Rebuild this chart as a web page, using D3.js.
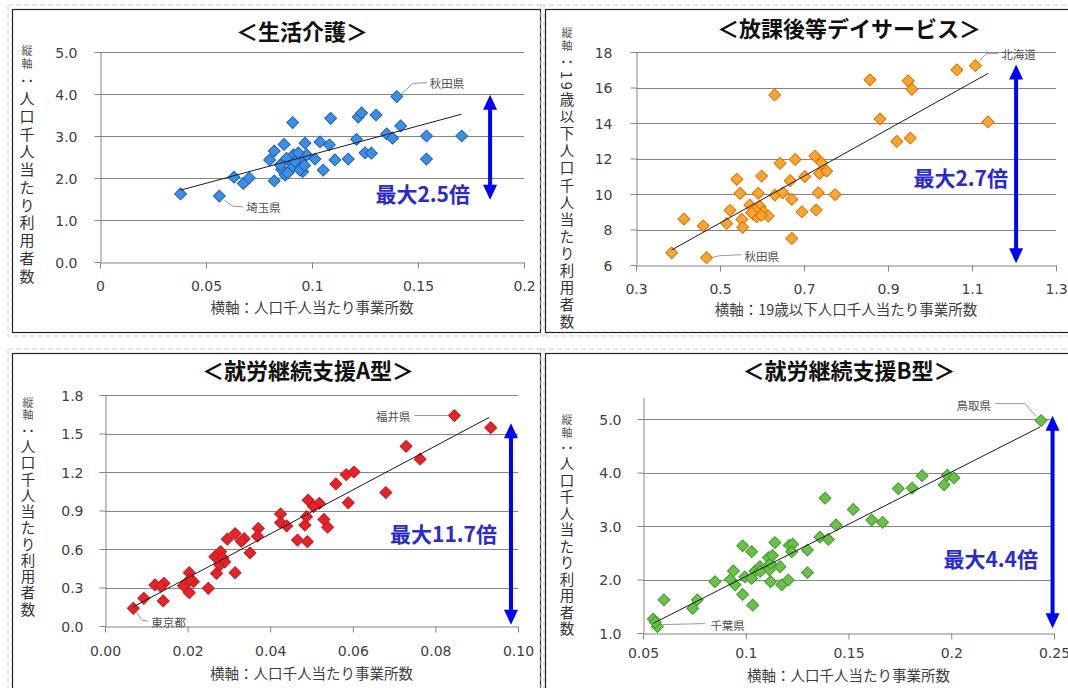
<!DOCTYPE html>
<html>
<head>
<meta charset="utf-8">
<script src="https://cdn.jsdelivr.net/npm/d3@7"></script>
<style>
  body { margin: 0; background: #fff; }
  svg { display: block; }
</style>
</head>
<body>
<svg width="1068" height="688"></svg>
<script>
// ---- data ----

// 生活介護: [事業所数 per 1000, 利用者数 per 1000]
const seikatsuPoints = [
  [0.038, 1.62], [0.0563, 1.57], [0.0632, 2.02], [0.0676, 1.87], [0.0704, 2.0],
  [0.0822, 1.93], [0.080, 2.43], [0.0822, 2.64], [0.0868, 2.8], [0.0909, 3.32],
  [0.0857, 2.2], [0.0873, 2.07], [0.0896, 2.39], [0.0912, 2.55], [0.0927, 2.27],
  [0.0951, 2.36], [0.0967, 2.83], [0.0975, 2.55], [0.0956, 2.15], [0.1014, 2.45],
  [0.1038, 2.86], [0.1053, 2.19], [0.1082, 2.79], [0.1088, 3.42], [0.1108, 2.43],
  [0.1171, 2.45], [0.121, 2.92], [0.1218, 3.45], [0.1234, 3.55], [0.125, 2.6],
  [0.128, 2.59], [0.1302, 3.5], [0.1352, 3.05], [0.138, 2.95], [0.14, 3.94],
  [0.1418, 3.24], [0.154, 3.0], [0.154, 2.45], [0.1706, 3.0], [0.085, 2.31],
  [0.0904, 2.23], [0.0943, 2.19], [0.088, 2.47], [0.092, 2.39], [0.0935, 2.6],
  [0.0885, 2.12], [0.0965, 2.3]
];
const seikatsuTrend = [[0.038, 1.71], [0.1706, 3.52]];
const seikatsuLabels = [["秋田県", 0.14, 3.94], ["埼玉県", 0.0563, 1.57]];
const seikatsuXTicks = [0, 0.05, 0.1, 0.15, 0.2];
const seikatsuYTicks = [0, 1, 2, 3, 4, 5];
const seikatsuRange = { text: "最大2.5倍", x: 0.184, from: 1.48, to: 3.98 };

// 放課後等デイサービス
const houkagoPoints = [
  [0.385, 6.69], [0.468, 6.41], [0.414, 8.59], [0.46, 8.21], [0.516, 8.34],
  [0.524, 9.08], [0.54, 10.83], [0.548, 10.04], [0.552, 8.57], [0.554, 8.12],
  [0.571, 9.38], [0.579, 8.87], [0.587, 8.72], [0.591, 10.04], [0.595, 9.3],
  [0.599, 11.01], [0.603, 9.0], [0.615, 8.76], [0.631, 9.94], [0.643, 11.73],
  [0.65, 10.07], [0.667, 10.75], [0.671, 9.7], [0.671, 7.5], [0.679, 11.95],
  [0.695, 9.0], [0.702, 10.98], [0.729, 9.1], [0.726, 12.14], [0.734, 10.07],
  [0.737, 11.15], [0.742, 11.75], [0.754, 11.29], [0.774, 9.97], [0.583, 9.1],
  [0.598, 8.8], [0.6302, 15.58], [0.857, 16.43], [0.881, 14.23], [0.921, 12.96],
  [0.948, 16.38], [0.957, 15.9], [0.953, 13.15], [1.064, 16.99], [1.108, 17.23],
  [1.138, 14.06], [0.575, 8.95]
];
const houkagoTrend = [[0.385, 6.85], [1.138, 16.79]];
const houkagoLabels = [["北海道", 1.108, 17.23], ["秋田県", 0.468, 6.41]];
const houkagoXTicks = [0.3, 0.5, 0.7, 0.9, 1.1, 1.3];
const houkagoYTicks = [6, 8, 10, 12, 14, 16, 18];
const houkagoRange = { text: "最大2.7倍", x: 1.205, from: 6.1, to: 17.3 };

// 就労継続支援A型
const typeAPoints = [
  [0.00686, 0.138], [0.0094, 0.216], [0.0121, 0.32], [0.0143, 0.333], [0.0141, 0.195],
  [0.019, 0.314], [0.0204, 0.415], [0.0204, 0.26], [0.0214, 0.345], [0.025, 0.294],
  [0.027, 0.41], [0.0266, 0.54], [0.028, 0.58], [0.0278, 0.475], [0.029, 0.5],
  [0.0296, 0.676], [0.0315, 0.415], [0.0315, 0.72], [0.0337, 0.68], [0.0351, 0.57],
  [0.0371, 0.76], [0.0369, 0.70], [0.0425, 0.873], [0.0425, 0.805], [0.0466, 0.67],
  [0.049, 0.657], [0.0484, 0.787], [0.0488, 0.852], [0.0492, 0.98], [0.0519, 0.956],
  [0.053, 0.83], [0.0539, 0.77], [0.0589, 0.96], [0.0559, 1.107], [0.0584, 1.18],
  [0.0603, 1.2], [0.068, 1.04], [0.0729, 1.40], [0.0763, 1.30], [0.0846, 1.64],
  [0.0934, 1.545], [0.0505, 0.93], [0.0285, 0.53], [0.0205, 0.36], [0.0135, 0.31],
  [0.0330, 0.66], [0.0440, 0.78]
];
const typeATrend = [[0.00686, 0.15], [0.093, 1.625]];
const typeALabels = [["福井県", 0.0846, 1.64], ["東京都", 0.00686, 0.138]];
const typeAXTicks = [0, 0.02, 0.04, 0.06, 0.08, 0.1];
const typeAYTicks = [0, 0.3, 0.6, 0.9, 1.2, 1.5, 1.8];
const typeARange = { text: "最大11.7倍", x: 0.0983, from: 0.01, to: 1.58 };

// 就労継続支援B型
const typeBPoints = [
  [0.055, 1.26], [0.057, 1.12], [0.0602, 1.62], [0.0742, 1.46], [0.0764, 1.62],
  [0.085, 1.96], [0.094, 2.16], [0.0948, 1.90], [0.0985, 1.72], [0.0985, 2.63],
  [0.0996, 2.05], [0.1029, 2.52], [0.1034, 1.52], [0.1045, 2.16], [0.1029, 2.02],
  [0.1069, 2.24], [0.111, 2.41], [0.1115, 2.18], [0.1121, 1.96], [0.1142, 2.69],
  [0.112, 2.3], [0.1167, 2.24], [0.1175, 1.90], [0.1207, 1.99], [0.1212, 2.64],
  [0.1228, 2.66], [0.1224, 2.52], [0.13, 2.55], [0.13, 2.13], [0.1361, 2.79],
  [0.1402, 2.75], [0.1386, 3.52], [0.1439, 3.02], [0.1523, 3.31], [0.1613, 3.11],
  [0.1666, 3.07], [0.1742, 3.70], [0.181, 3.71], [0.1858, 3.94], [0.1965, 3.77],
  [0.1981, 3.95], [0.2013, 3.9], [0.2437, 4.97], [0.056, 1.2], [0.107, 2.15],
  [0.113, 2.45], [0.0925, 2.0]
];
const typeBTrend = [[0.055, 1.18], [0.2432, 4.85]];
const typeBLabels = [["鳥取県", 0.2437, 4.97], ["千葉県", 0.057, 1.12]];
const typeBXTicks = [0.05, 0.1, 0.15, 0.2, 0.25];
const typeBYTicks = [1, 2, 3, 4, 5];
const typeBRange = { text: "最大4.4倍", x: 0.2493, from: 1.09, to: 5.06 };

const titles = ["＜生活介護＞", "＜放課後等デイサービス＞", "＜就労継続支援A型＞", "＜就労継続支援B型＞"];
const yTitles = ["縦軸：人口千人当たり利用者数", "縦軸：19歳以下人口千人当たり利用者数",
                 "縦軸：人口千人当たり利用者数", "縦軸：人口千人当たり利用者数"];
const xTitles = ["横軸：人口千人当たり事業所数", "横軸：19歳以下人口千人当たり事業所数",
                 "横軸：人口千人当たり事業所数", "横軸：人口千人当たり事業所数"];

// ---- drawing ----
const JP = "'Noto Sans CJK JP', 'Noto Sans', sans-serif";
const NUM = "'DejaVu Sans', Verdana, sans-serif";
const svg = d3.select("svg");

const panels = [
  { points: seikatsuPoints, trend: seikatsuTrend, labels: seikatsuLabels, range: seikatsuRange,
    xTicks: seikatsuXTicks, yTicks: seikatsuYTicks, title: titles[0], yTitle: yTitles[0], xTitle: xTitles[0],
    xDomain: [0, 0.2], yDomain: [0, 5], xRange: [100, 524], yRange: [262, 52],
    xFmt: d3.format(""), yFmt: d3.format(".1f"),
    box: [12, 9, 540, 332], titleX: 302, titleY: 30, yTitleX: 27, yTitleSpan: [45, 283], yTitleSize: 15,
    yLabelRight: 77, xLabelDy: 23, xTitleY: 306,
    fill: "#3d8fe6", stroke: "#1d5fb8",
    callouts: [ { leader: [[4, -2], [16, -13], [30, -14]], dx: 33, dy: -14, anchor: "start" },
                { leader: [[5, 4], [13, 10], [24, 11]], dx: 27, dy: 11, anchor: "start" } ],
    textRight: 470, textY: 193 },
  { points: houkagoPoints, trend: houkagoTrend, labels: houkagoLabels, range: houkagoRange,
    xTicks: houkagoXTicks, yTicks: houkagoYTicks, title: titles[1], yTitle: yTitles[1], xTitle: xTitles[1],
    xDomain: [0.3, 1.3], yDomain: [6, 18], xRange: [636, 1056], yRange: [265, 52],
    xFmt: d3.format(".1f"), yFmt: d3.format("d"),
    box: [545, 9, 1072, 332], titleX: 849, titleY: 27, yTitleX: 567, yTitleSpan: [27, 325], yTitleSize: 14.5,
    yLabelRight: 612, xLabelDy: 23, xTitleY: 308,
    fill: "#f9a632", stroke: "#dc6f00",
    callouts: [ { leader: [[4, -5], [11, -12], [23, -12]], dx: 26, dy: -12, anchor: "start" },
                { leader: [[5, 0], [13, -2], [35, -3]], dx: 38, dy: -2, anchor: "start" } ],
    textRight: 1008, textY: 177 },
  { points: typeAPoints, trend: typeATrend, labels: typeALabels, range: typeARange,
    xTicks: typeAXTicks, yTicks: typeAYTicks, title: titles[2], yTitle: yTitles[2], xTitle: xTitles[2],
    xDomain: [0, 0.1], yDomain: [0, 1.8], xRange: [105, 518], yRange: [626, 395],
    xFmt: d3.format(".2f"), yFmt: d3.format(".1f"),
    box: [12, 353, 540, 700], titleX: 308, titleY: 369, yTitleX: 28, yTitleSpan: [397, 616], yTitleSize: 14.5,
    yLabelRight: 83, xLabelDy: 24, xTitleY: 672,
    fill: "#e3242b", stroke: "#c8161e",
    callouts: [ { leader: [[-6, 0], [-40, 0]], dx: -44, dy: 0, anchor: "end" },
                { leader: [[3, 4], [9, 12], [15, 13]], dx: 18, dy: 14, anchor: "start" } ],
    textRight: 497, textY: 533 },
  { points: typeBPoints, trend: typeBTrend, labels: typeBLabels, range: typeBRange,
    xTicks: typeBXTicks, yTicks: typeBYTicks, title: titles[3], yTitle: yTitles[3], xTitle: xTitles[3],
    xDomain: [0.05, 0.25], yDomain: [1, 5.4], xRange: [643, 1054], yRange: [633, 397.6],
    xFmt: d3.format(""), yFmt: d3.format(".1f"),
    box: [545, 353, 1072, 700], titleX: 849, titleY: 369, yTitleX: 567, yTitleSpan: [414, 636], yTitleSize: 14.5,
    yLabelRight: 621, xLabelDy: 19, xTitleY: 674,
    fill: "#6cc04a", stroke: "#3e9a2e",
    callouts: [ { leader: [[-5, -4], [-16, -17], [-46, -17]], dx: -50, dy: -16, anchor: "end" },
                { leader: [[5, -2], [48, -3]], dx: 53, dy: -2, anchor: "start" } ],
    textRight: 1038, textY: 558 }
];

const diamond = d3.symbol().type(d3.symbolSquare).size(70);

panels.forEach(p => {
  const g = svg.append("g");
  const [bx0, by0, bx1, by1] = p.box;

  // frame: faint dashed outline + solid border
  g.append("rect")
    .attr("x", bx0 - 4).attr("y", by0 - 4)
    .attr("width", bx1 - bx0 + 8).attr("height", by1 - by0 + 8)
    .attr("fill", "none").attr("stroke", "#cfcfcf").attr("stroke-dasharray", "5,3");
  g.append("rect")
    .attr("x", bx0 + 0.5).attr("y", by0 + 0.5)
    .attr("width", bx1 - bx0).attr("height", by1 - by0)
    .attr("fill", "none").attr("stroke", "#222").attr("stroke-width", 1.2);

  const x = d3.scaleLinear().domain(p.xDomain).range(p.xRange);
  const y = d3.scaleLinear().domain(p.yDomain).range(p.yRange);

  // gridlines
  g.selectAll(".grid")
    .data(p.yTicks.filter(t => t !== p.yDomain[0]))
    .join("line")
    .attr("x1", p.xRange[0]).attr("x2", p.xRange[1])
    .attr("y1", d => Math.round(y(d)) + 0.5).attr("y2", d => Math.round(y(d)) + 0.5)
    .attr("stroke", "#858585");

  // axes
  const yAxis = g.append("g")
    .attr("transform", `translate(${p.xRange[0] + 0.5},0)`)
    .call(d3.axisLeft(y).tickValues(p.yTicks).tickFormat(p.yFmt)
      .tickSize(6).tickSizeOuter(0).tickPadding(p.xRange[0] - 6 - p.yLabelRight));
  const xAxis = g.append("g")
    .attr("transform", `translate(0,${Math.round(p.yRange[0]) + 0.5})`)
    .call(d3.axisBottom(x).tickValues(p.xTicks).tickFormat(p.xFmt).tickSize(6).tickSizeOuter(0));
  [yAxis, xAxis].forEach(a => {
    a.attr("font-family", NUM).attr("font-size", 14);
    a.selectAll("path, line").attr("stroke", "#858585");
    a.selectAll("text").attr("fill", "#404040");
  });
  yAxis.selectAll("text").attr("dy", "0.36em");
  xAxis.selectAll("text").attr("dy", null).attr("y", p.xLabelDy).attr("dominant-baseline", "central");

  // points
  g.selectAll(".pt")
    .data(p.points)
    .join("path")
    .attr("d", diamond)
    .attr("transform", d => `translate(${x(d[0])},${y(d[1])}) rotate(45)`)
    .attr("fill", p.fill).attr("stroke", p.stroke).attr("stroke-width", 1);

  // linear trend line (Excel draws it over the markers)
  g.append("line")
    .attr("x1", x(p.trend[0][0])).attr("y1", y(p.trend[0][1]))
    .attr("x2", x(p.trend[1][0])).attr("y2", y(p.trend[1][1]))
    .attr("stroke", "#1a1a1a").attr("stroke-width", 1);

  // prefecture callouts
  p.labels.forEach((l, i) => {
    const c = p.callouts[i];
    const px = x(l[1]), py = y(l[2]);
    g.append("path")
      .attr("d", d3.line()(c.leader.map(o => [px + o[0], py + o[1]])))
      .attr("fill", "none").attr("stroke", "#9a9a9a").attr("stroke-width", 1);
    g.append("text")
      .attr("x", px + c.dx).attr("y", py + c.dy)
      .attr("text-anchor", c.anchor).attr("dominant-baseline", "central")
      .attr("font-family", JP).attr("font-size", 11.5).attr("fill", "#505050")
      .text(l[0]);
  });

  // max-ratio double arrow
  const ax = x(p.range.x), ay0 = y(p.range.to), ay1 = y(p.range.from);
  g.append("line")
    .attr("x1", ax).attr("x2", ax).attr("y1", ay0 + 12).attr("y2", ay1 - 12)
    .attr("stroke", "#0000ff").attr("stroke-width", 4);
  g.append("path")
    .attr("d", `M${ax},${ay0} L${ax - 7},${ay0 + 15} L${ax + 7},${ay0 + 15} Z M${ax},${ay1} L${ax - 7},${ay1 - 15} L${ax + 7},${ay1 - 15} Z`)
    .attr("fill", "#0000ff");
  g.append("text")
    .attr("x", p.textRight).attr("y", p.textY)
    .attr("text-anchor", "end").attr("dominant-baseline", "central")
    .attr("font-family", JP).attr("font-weight", "bold").attr("font-size", 21)
    .attr("fill", "#2b2bcc")
    .text(p.range.text);

  // chart title
  g.append("text")
    .attr("x", p.titleX).attr("y", p.titleY)
    .attr("text-anchor", "middle").attr("dominant-baseline", "central")
    .attr("font-family", JP).attr("font-weight", "bold").attr("font-size", 22)
    .attr("fill", "#111")
    .text(p.title);

  // x-axis title
  g.append("text")
    .attr("x", (p.xRange[0] + p.xRange[1]) / 2).attr("y", p.xTitleY)
    .attr("text-anchor", "middle").attr("dominant-baseline", "central")
    .attr("font-family", JP).attr("font-size", 14.5).attr("fill", "#404040")
    .text(p.xTitle);

  // vertical y-axis title written top-to-bottom; "縦軸" set smaller like the source
  const head = p.yTitle.slice(0, 2), rest = p.yTitle.slice(2);
  const advance = 2 * 11 + (rest.match(/\d+|./gu).length) * p.yTitleSize;
  const glyphs = p.yTitle.match(/\d+|./gu).length;
  const spacing = (p.yTitleSpan[1] - p.yTitleSpan[0] - advance) / (glyphs - 1);
  const yt = g.append("text")
    .attr("x", p.yTitleX).attr("y", p.yTitleSpan[0])
    .style("writing-mode", "vertical-rl")
    .attr("font-family", JP)
    .attr("letter-spacing", spacing.toFixed(2));
  yt.append("tspan").attr("font-size", 11).attr("fill", "#555").text(head);
  yt.append("tspan").attr("font-size", p.yTitleSize).attr("fill", "#333").text(rest);
});
</script>
</body>
</html>
